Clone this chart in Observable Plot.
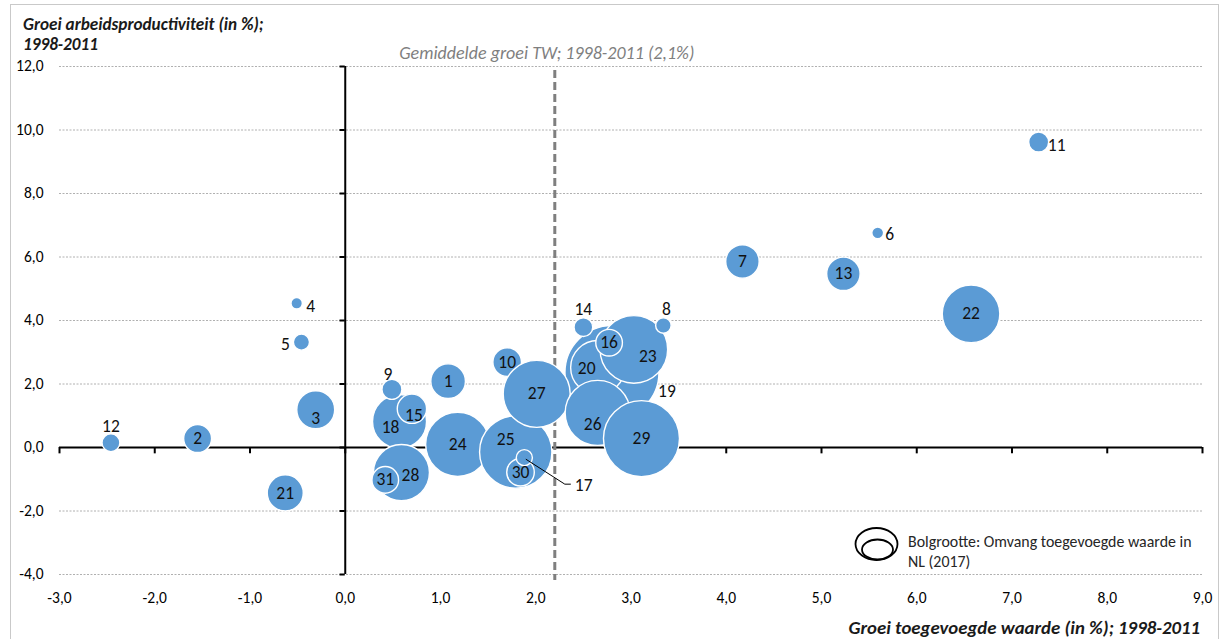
<!DOCTYPE html>
<html>
<head>
<meta charset="utf-8">
<script src="https://cdn.jsdelivr.net/npm/d3@7"></script>
<script src="https://cdn.jsdelivr.net/npm/@observablehq/plot@0.6"></script>
<style>
  html, body { margin: 0; padding: 0; background: #fff; }
  #chart { width: 1232px; height: 639px; overflow: hidden; }
</style>
</head>
<body>
<div id="chart"></div>
<script>
// ---------- DATA ----------
const sectors = [1,2,3,4,5,6,7,8,9,10,11,12,13,14,15,16,17,18,19,20,21,22,23,24,25,26,27,28,29,30,31];
// Groei toegevoegde waarde (in %), 1998-2011
const growthValueAdded = [1.08,-1.55,-0.31,-0.51,-0.46,5.59,4.17,3.34,0.49,1.70,7.28,-2.46,5.23,2.50,0.70,2.77,1.88,0.57,2.80,2.65,-0.63,6.57,3.03,1.18,1.79,2.65,2.01,0.59,3.11,1.84,0.42];
// Groei arbeidsproductiviteit (in %), 1998-2011
const growthProductivity = [2.09,0.28,1.19,4.54,3.32,6.76,5.86,3.84,1.83,2.69,9.62,0.15,5.47,3.79,1.22,3.30,-0.32,0.82,2.36,2.52,-1.43,4.21,3.09,0.10,-0.14,1.09,1.69,-0.79,0.28,-0.78,-1.02];
// Omvang toegevoegde waarde in NL (2017)
const valueAdded2017 = [12.0,7.8,14.4,1.3,2.6,1.4,11.2,2.4,4.0,8.2,4.0,3.2,11.2,3.5,8.6,7.1,2.6,29.2,88.4,29.2,13.0,33.2,45.7,41.0,52.4,42.3,44.9,31.4,57.8,7.6,7.1];
const meanGrowthTW = 2.2;            // position of the dashed line as drawn
const meanGrowthLabel = "Gemiddelde groei TW; 1998-2011 (2,1%)";
const xTicks = [-3,-2,-1,0,1,2,3,4,5,6,7,8,9];
const yTicks = [-4,-2,0,2,4,6,8,10,12];
const yTitle = ["Groei arbeidsproductiviteit (in %);", "1998-2011"];
const xTitle = "Groei toegevoegde waarde (in %); 1998-2011";
const legendText = ["Bolgrootte: Omvang toegevoegde waarde in", "NL (2017)"];

// drawing order (bottom to top), as stacked in the original
const drawOrder = [19,10,24,25,27,20,26,29,23,16,14,8,30,17,18,28,31,15,9,1,2,3,4,5,6,7,11,12,13,21,22];
// label offsets in pixels [dx, dy]
const labelOffsets = {3:[0,9],4:[14,3],5:[-16,2],6:[12,2],8:[3,-16],9:[-4,-15],11:[18,3],12:[0,-16],
  14:[0,-18],15:[2,7],18:[-9,6],19:[55,19],20:[-11,1],23:[14,7],25:[-10,-13],26:[-5,11],28:[9,3]};

// ---------- BUILD ----------
const fmt = d => d.toFixed(1).replace(".", ",");
const rows = sectors.map((id, i) => ({id, x: growthValueAdded[i], y: growthProductivity[i], size: valueAdded2017[i]}));
const data = drawOrder.map(id => rows.find(r => r.id === id));
const FONT = "Carlito, Calibri, Lato, sans-serif";
const BLUE = "#5B9BD5";
const LABEL_SIZE = 17.5;

const labelMarks = data.filter(d => d.id !== 17).map(d => {
  const [dx, dy] = labelOffsets[d.id] || [0, 0];
  return Plot.text([d], {x: "x", y: "y", text: d => String(d.id), dx, dy, fontSize: LABEL_SIZE, fill: "#111"});
});

// leader line + label for 17
const leader17 = (index, scales) => {
  const r = rows.find(r => r.id === 17);
  const cx = scales.x(r.x), cy = scales.y(r.y);
  const g = d3.create("svg:g");
  g.append("path")
    .attr("d", `M${cx+2},${cy+2}L${cx+41},${cy+27}L${cx+47},${cy+27}`)
    .attr("fill", "none").attr("stroke", "#000").attr("stroke-width", 1);
  g.append("text").attr("x", cx + 51).attr("y", cy + 28).attr("dy", "0.35em")
    .attr("text-anchor", "start")
    .attr("font-size", LABEL_SIZE).attr("fill", "#111").attr("font-family", FONT).text("17");
  return g.node();
};

const decorations = (index, scales, values, dims) => {
  const g = d3.create("svg:g").attr("font-family", FONT).attr("text-anchor", "start");
  // chart area border
  g.append("rect").attr("x", 10.5).attr("y", 4.5).attr("width", 1208).attr("height", 700)
    .attr("fill", "none").attr("stroke", "#C9C9C9").attr("stroke-width", 1);
  // y title (two lines)
  yTitle.forEach((s, i) => g.append("text").attr("x", 23).attr("y", 30 + i * 20)
    .attr("font-size", 17.2).attr("font-weight", "bold").attr("font-style", "italic")
    .attr("fill", "#1a1a1a").attr("text-anchor", "start").text(s));
  // x title
  g.append("text").attr("x", 1200).attr("y", 634).attr("text-anchor", "end")
    .attr("font-size", 18.8).attr("font-weight", "bold").attr("font-style", "italic")
    .attr("fill", "#1a1a1a").text(xTitle);
  // legend
  g.append("ellipse").attr("cx", 876.5).attr("cy", 544).attr("rx", 21).attr("ry", 16)
    .attr("fill", "white").attr("stroke", "#000").attr("stroke-width", 1.8);
  g.append("ellipse").attr("cx", 877.5).attr("cy", 549.5).attr("rx", 15.5).attr("ry", 10)
    .attr("fill", "white").attr("stroke", "#000").attr("stroke-width", 1.8);
  legendText.forEach((s, i) => g.append("text").attr("x", 908).attr("y", 547 + i * 20)
    .attr("font-size", 15.9).attr("fill", "#262626").attr("text-anchor", "start").text(s));
  return g.node();
};

const chart = Plot.plot({
  width: 1232,
  height: 639,
  marginLeft: 59,
  marginRight: 30,
  marginTop: 66,
  marginBottom: 65,
  style: {fontFamily: FONT, fontSize: "15px", background: "white", color: "#000"},
  x: {domain: [-3, 9]},
  y: {domain: [-4, 12]},
  r: {type: "sqrt", domain: [0, 88.4], range: [0, 47]},
  marks: [
    // gridlines
    Plot.ruleY(yTicks.filter(d => d !== 0), {y: d => d, stroke: "#B0B0B0", strokeWidth: 1, strokeDasharray: "2,1.5"}),
    // axes lines
    Plot.ruleX([0], {x: d => d, stroke: "#000", strokeWidth: 2}),
    Plot.ruleY([0], {y: d => d, stroke: "#000", strokeWidth: 2}),
    // ticks on the axes through zero
    Plot.ruleX(xTicks, {x: d => d, y1: 0, y2: -0.2, stroke: "#000", strokeWidth: 2}),
    Plot.ruleY(yTicks, {y: d => d, x1: 0, x2: -0.055, stroke: "#000", strokeWidth: 2}),
    // mean growth line
    Plot.ruleX([meanGrowthTW], {x: d => d, y1: 12, y2: -4, insetTop: 4, insetBottom: -6, stroke: "#7F7F7F", strokeWidth: 3, strokeDasharray: "8,4"}),
    Plot.text([meanGrowthTW], {x: d => d, frameAnchor: "top", dy: -20, dx: -8, text: () => meanGrowthLabel,
      fontStyle: "italic", fill: "#7F7F7F", fontSize: 18}),
    // axis tick labels
    Plot.axisX(xTicks, {tickSize: 0, tickPadding: 17, tickFormat: fmt, fontSize: 15.5, label: null}),
    Plot.axisY(yTicks, {tickSize: 0, tickPadding: 16, tickFormat: fmt, fontSize: 15.5, label: null}),
    // bubbles
    Plot.dot(data, {x: "x", y: "y", r: "size", fill: BLUE, stroke: "white", strokeWidth: 1.4, sort: null}),
    ...labelMarks,
    leader17,
    decorations
  ]
});
document.getElementById("chart").appendChild(chart);
</script>
</body>
</html>
